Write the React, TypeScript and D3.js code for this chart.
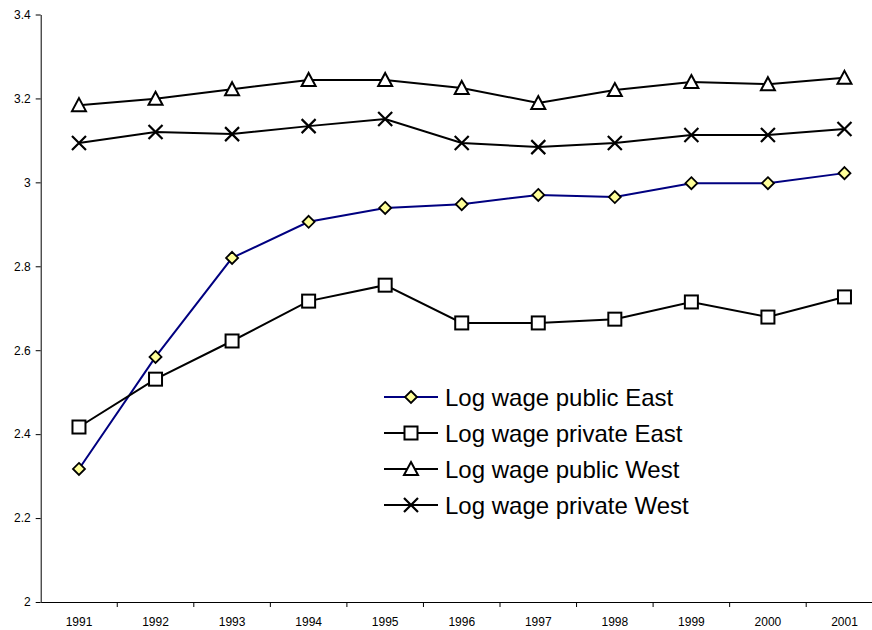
import React, { useEffect, useRef } from 'react';
import * as d3 from 'd3';

const years = ['1991', '1992', '1993', '1994', '1995', '1996', '1997', '1998', '1999', '2000', '2001'];
const publicEast = [2.317, 2.584, 2.82, 2.906, 2.939, 2.948, 2.97, 2.965, 2.998, 2.998, 3.022];
const privateEast = [2.417, 2.531, 2.622, 2.717, 2.755, 2.665, 2.665, 2.674, 2.715, 2.679, 2.727];
const publicWest = [3.184, 3.199, 3.222, 3.244, 3.244, 3.225, 3.189, 3.22, 3.239, 3.234, 3.249];
const privateWest = [3.094, 3.12, 3.115, 3.134, 3.151, 3.094, 3.084, 3.094, 3.113, 3.113, 3.127];
const yTicks = [2, 2.2, 2.4, 2.6, 2.8, 3, 3.2, 3.4];

const seriesList = [
  { name: 'Log wage public East', values: publicEast, color: '#000080', marker: 'diamond' },
  { name: 'Log wage private East', values: privateEast, color: '#000000', marker: 'square' },
  { name: 'Log wage public West', values: publicWest, color: '#000000', marker: 'triangle' },
  { name: 'Log wage private West', values: privateWest, color: '#000000', marker: 'cross' },
];

const W = 872;
const H = 630;

const drawMarker = (g, type, x, y) => {
  if (type === 'diamond') {
    g.append('path')
      .attr('d', `M${x},${y - 6}L${x + 6},${y}L${x},${y + 6}L${x - 6},${y}Z`)
      .attr('fill', '#ffff99').attr('stroke', '#000').attr('stroke-width', 1.8);
  } else if (type === 'square') {
    g.append('rect')
      .attr('x', x - 6.5).attr('y', y - 6.5).attr('width', 13).attr('height', 13)
      .attr('fill', '#fff').attr('stroke', '#000').attr('stroke-width', 2);
  } else if (type === 'triangle') {
    g.append('path')
      .attr('d', `M${x},${y - 7}L${x + 7},${y + 6}L${x - 7},${y + 6}Z`)
      .attr('fill', '#fff').attr('stroke', '#000').attr('stroke-width', 2);
  } else {
    g.append('path')
      .attr('d', `M${x - 7},${y - 7}L${x + 7},${y + 7}M${x + 7},${y - 7}L${x - 7},${y + 7}`)
      .attr('stroke', '#000').attr('stroke-width', 2.2);
  }
};

const App = () => {
  const svgRef = useRef(null);

  useEffect(() => {
    const svg = d3.select(svgRef.current);
    svg.selectAll('*').remove();

    // plot area runs a bit past the right edge of the picture
    const left = 40.7;
    const top = 14.5;
    const bottom = 602;
    const step = 76.55;

    const x = d3.scaleBand().domain(years).range([left, left + step * years.length]);
    const y = d3.scaleLinear().domain([2, 3.4]).range([bottom, top]);

    svg.append('rect').attr('width', W).attr('height', H).attr('fill', '#fff');

    const font = 'Arial, "Liberation Sans", sans-serif';

    // y axis
    const yAxis = svg.append('g')
      .attr('transform', `translate(${left},0)`)
      .call(d3.axisLeft(y).tickValues(yTicks).tickSize(5).tickSizeOuter(0).tickFormat(d3.format('')));
    yAxis.select('.domain').attr('stroke', '#000').attr('stroke-width', 1);
    yAxis.selectAll('.tick line').attr('stroke', '#000');
    yAxis.selectAll('.tick text')
      .attr('font-family', font).attr('font-size', 12).attr('fill', '#000').attr('x', -10);

    // x axis
    const xAxis = svg.append('g')
      .attr('transform', `translate(0,${bottom})`)
      .call(d3.axisBottom(x).tickSize(0).tickSizeOuter(0));
    xAxis.select('.domain').attr('stroke', '#000').attr('stroke-width', 1);
    xAxis.selectAll('.tick text')
      .attr('font-family', font).attr('font-size', 12).attr('fill', '#000').attr('dy', 0).attr('y', 24);
    xAxis.selectAll('.between')
      .data(years.slice(1))
      .enter().append('line')
      .attr('x1', d => x(d)).attr('x2', d => x(d))
      .attr('y1', 0).attr('y2', 5)
      .attr('stroke', '#000');

    const cx = d => x(d) + x.bandwidth() / 2;

    const line = d3.line()
      .x((d, i) => cx(years[i]))
      .y(d => y(d));

    seriesList.forEach(s => {
      svg.append('path')
        .datum(s.values)
        .attr('fill', 'none')
        .attr('stroke', s.color)
        .attr('stroke-width', 2)
        .attr('d', line);
      const mg = svg.append('g');
      s.values.forEach((v, i) => drawMarker(mg, s.marker, cx(years[i]), y(v)));
    });

    // legend
    const legend = svg.append('g');
    seriesList.forEach((s, i) => {
      const ly = 397 + i * 36;
      legend.append('line')
        .attr('x1', 384).attr('x2', 438).attr('y1', ly).attr('y2', ly)
        .attr('stroke', s.color).attr('stroke-width', 2);
      drawMarker(legend, s.marker, 411, ly);
      legend.append('text')
        .attr('x', 445).attr('y', ly + 9)
        .attr('font-family', font).attr('font-size', 24)
        .attr('fill', '#000')
        .text(s.name);
    });
  }, []);

  return <svg ref={svgRef} width={W} height={H} style={{ position: 'absolute', left: 0, top: 0 }}></svg>;
};

export default App;
